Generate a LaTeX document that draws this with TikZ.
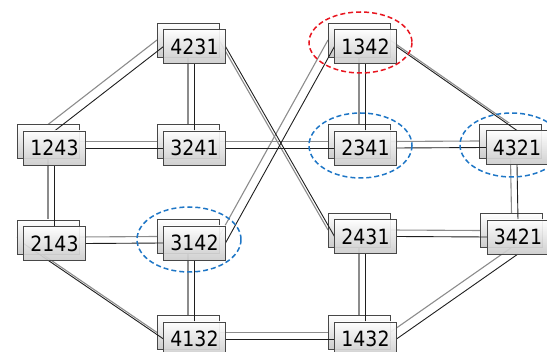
\documentclass[tikz,border=0pt]{standalone}
\usepackage{fontspec}
\setmainfont{DejaVu Sans Condensed}
\usetikzlibrary{calc}
\pgfdeclarelayer{bgline}
\pgfdeclarelayer{backbox}
\pgfdeclarelayer{frontline}
\pgfsetlayers{bgline,backbox,frontline,main}
\definecolor{ringblue}{RGB}{30,118,198}
\definecolor{ringred}{RGB}{232,22,32}
\tikzset{
  permbox/.style={rectangle, minimum width=62pt, minimum height=34pt, inner sep=0pt,
    outer sep=0pt, draw=black!72, line width=0.8pt,
    top color=white, middle color=white, bottom color=black!20},
  backbox/.style={permbox},
  frontbox/.style={permbox, fill opacity=0.92, text opacity=1,
    font=\fontsize{21}{21}\selectfont},
  backline/.style={draw=black!45, line width=1.1pt},
  frontline/.style={draw=black!88, line width=0.9pt},
  ring/.style={dash pattern=on 5pt off 3pt, line width=1.5pt},
}
% one permutation = a blank card behind a labelled card
\newcommand\perm[2]{%
  \begin{pgfonlayer}{backbox}
    \node[backbox, xshift=-6.5pt, yshift=6.5pt] (b#1) at (#2) {};
  \end{pgfonlayer}
  \node[frontbox] (f#1) at (#2) {#1};}
% one link = a grey line between the back cards and a dark one between the front cards
\newcommand\link[4]{%
  \begin{pgfonlayer}{bgline}
    \draw[backline] (b#1.#2) -- (b#3.#4);
  \end{pgfonlayer}
  \begin{pgfonlayer}{frontline}
    \draw[frontline] (f#1.#2) -- (f#3.#4);
  \end{pgfonlayer}}
\begin{document}
\begin{tikzpicture}[x=1pt, y=-1pt]
\useasboundingbox (0,0) rectangle (547,352);

\perm{4231}{194.5,46.5}
\perm{1342}{365.5,46.5}
\perm{1243}{54.5,148}
\perm{3241}{194.5,148}
\perm{2341}{365.5,148}
\perm{4321}{517,147.5}
\perm{2143}{54.5,243.5}
\perm{3142}{194.5,243}
\perm{2431}{365.5,236.5}
\perm{3421}{518,237}
\perm{4132}{194.5,339}
\perm{1432}{365.5,339}

\link{4231}{west}{1243}{north}
\link{4231}{south}{3241}{north}
\link{4231}{east}{2431}{west}
\link{1342}{west}{3142}{east}
\link{1342}{south}{2341}{north}
\link{1342}{east}{4321}{north}
\link{1243}{east}{3241}{west}
\link{1243}{south}{2143}{north}
\link{3241}{east}{2341}{west}
\link{2341}{east}{4321}{west}
\link{4321}{south}{3421}{north}
\link{2143}{east}{3142}{west}
\link{2143}{west}{4132}{west}
\link{3142}{south}{4132}{north}
\link{2431}{east}{3421}{west}
\link{2431}{south}{1432}{north}
\link{3421}{south}{1432}{east}
\link{4132}{east}{1432}{west}

% highlighted permutations
\draw[ring, ringred]  (360.5,42.5)  ellipse [x radius=51.5, y radius=30.5];
\draw[ring, ringblue] (360.5,145.5) ellipse [x radius=51.5, y radius=32.5];
\draw[ring, ringblue] (511.5,145)   ellipse [x radius=51.5, y radius=32];
\draw[ring, ringblue] (189,239.5)   ellipse [x radius=52,   y radius=32.5];
\end{tikzpicture}
\end{document}
